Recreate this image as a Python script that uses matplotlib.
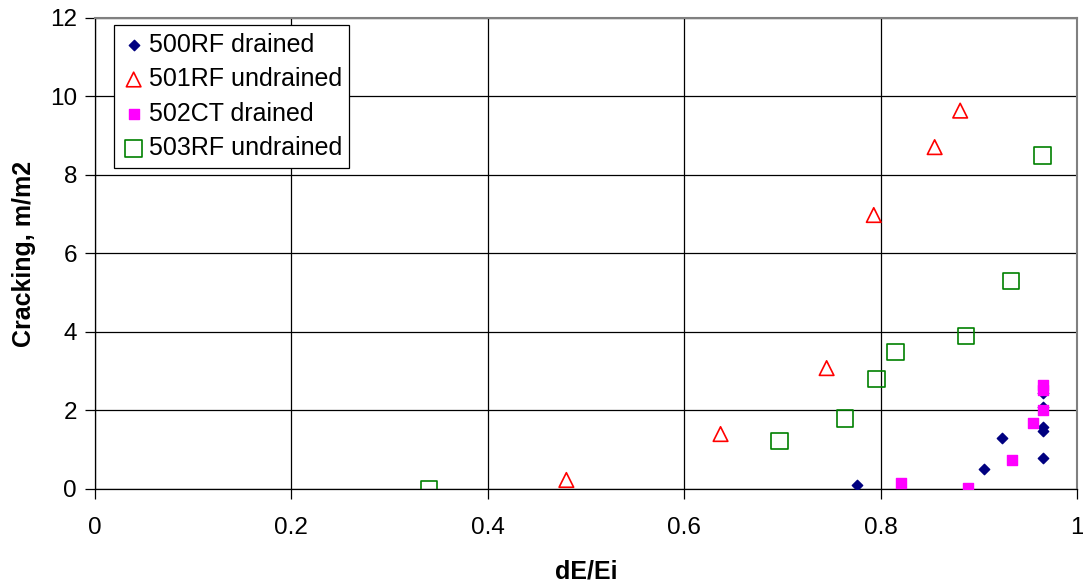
import numpy as np
import matplotlib
matplotlib.use("Agg")
import matplotlib.pyplot as plt

plt.rcParams['font.family'] = ['Liberation Sans', 'DejaVu Sans']

# 500RF drained
x_500 = [0.776, 0.905, 0.924, 0.965, 0.965, 0.965, 0.965, 0.965]
y_500 = [0.09, 0.50, 1.29, 0.80, 1.49, 1.59, 2.10, 2.44]

# 501RF undrained
x_501 = [0.480, 0.637, 0.745, 0.793, 0.855, 0.881]
y_501 = [0.23, 1.40, 3.08, 6.98, 8.71, 9.64]

# 502CT drained
x_502 = [0.821, 0.889, 0.934, 0.955, 0.965, 0.965, 0.965]
y_502 = [0.16, 0.03, 0.74, 1.67, 2.00, 2.52, 2.65]

# 503RF undrained
x_503 = [0.340, 0.697, 0.764, 0.796, 0.815, 0.887, 0.933, 0.965]
y_503 = [0.00, 1.22, 1.80, 2.80, 3.49, 3.90, 5.30, 8.50]

fig = plt.figure(figsize=(10.83, 5.82), dpi=100)
ax = fig.add_axes([0.0877, 0.1598, 0.9068, 0.8093])

ax.scatter(x_500, y_500, marker='D', s=28, color='#000080', label='500RF drained', zorder=3)
ax.scatter(x_501, y_501, marker='^', s=110, facecolors='none', edgecolors='#ff0000',
           linewidths=1.2, label='501RF undrained', zorder=3)
ax.scatter(x_502, y_502, marker='s', s=50, color='#ff00ff', label='502CT drained', zorder=3)
ax.scatter(x_503, y_503, marker='s', s=140, facecolors='none', edgecolors='#008000',
           linewidths=1.2, label='503RF undrained', zorder=3)

ax.set_xlim(0, 1)
ax.set_ylim(0, 12)
ax.set_xticks(np.arange(0, 1.01, 0.2))
ax.set_xticklabels(['0', '0.2', '0.4', '0.6', '0.8', '1'])
ax.set_yticks(np.arange(0, 13, 2))
ax.grid(True, color='black', linewidth=0.9)
ax.set_axisbelow(True)
ax.tick_params(labelsize=17.5, length=7, width=0.9, direction='out')
ax.tick_params(axis='x', pad=13)
ax.tick_params(axis='y', pad=6)

for side in ['top', 'right']:
    ax.spines[side].set_color('#808080')
    ax.spines[side].set_linewidth(1.5)
for side in ['left', 'bottom']:
    ax.spines[side].set_color('black')
    ax.spines[side].set_linewidth(0.9)

ax.set_xlabel('dE/Ei', fontsize=18, fontweight='bold')
ax.xaxis.set_label_coords(0.5, -0.149)
ax.set_ylabel('Cracking, m/m2', fontsize=18, fontweight='bold')
ax.yaxis.set_label_coords(-0.060, 0.5)

leg = ax.legend(loc='upper left', bbox_to_anchor=(0.019, 0.985), fontsize=18,
                frameon=True, fancybox=False, edgecolor='black', framealpha=1,
                handletextpad=0.1, borderpad=0.3, labelspacing=0.42,
                handlelength=1.0, borderaxespad=0)
leg.get_frame().set_linewidth(0.9)

fig.savefig('out.png', dpi=100)
